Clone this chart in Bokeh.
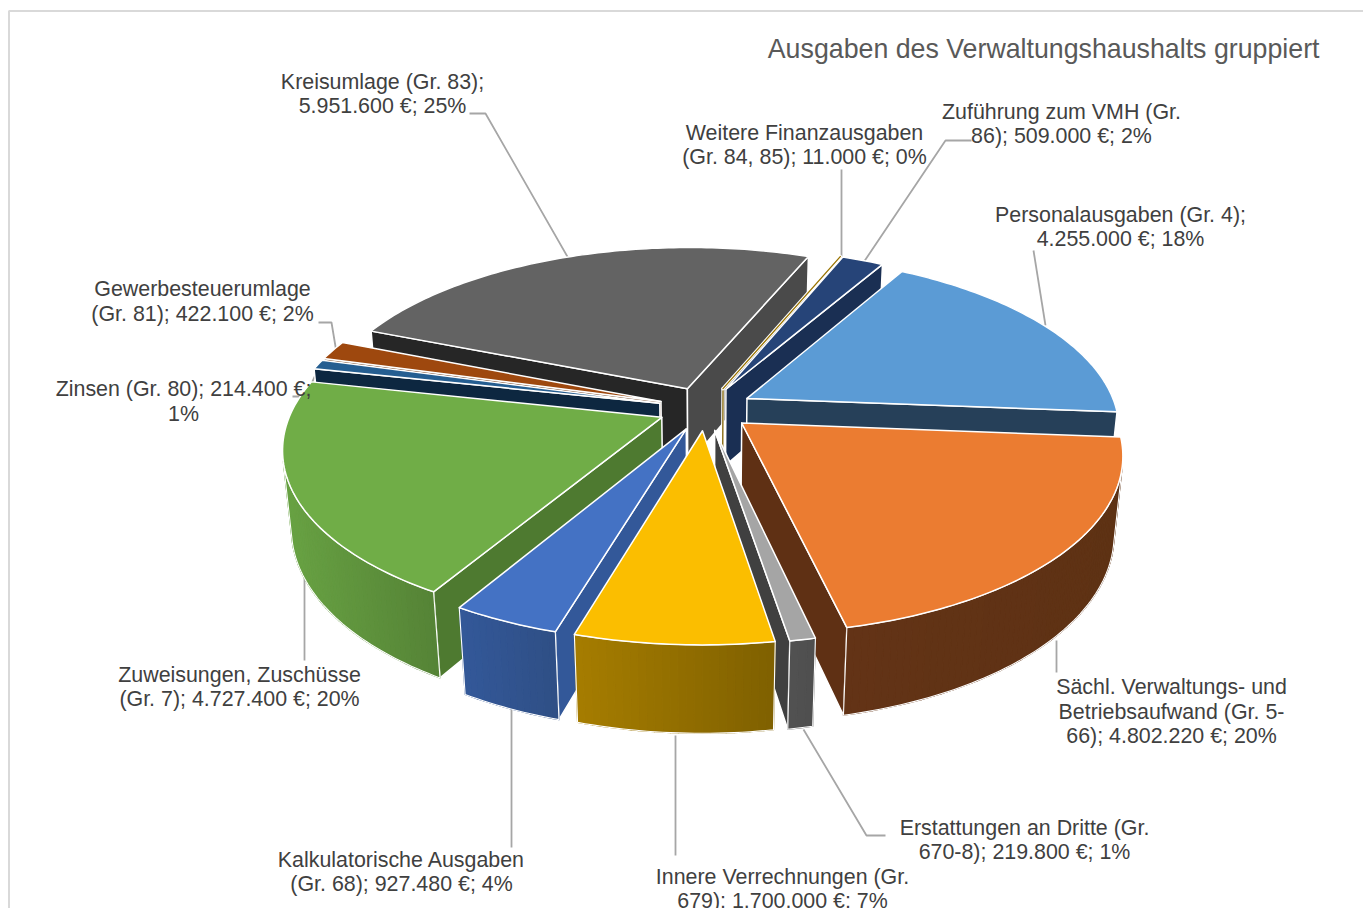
import math
from bokeh.plotting import figure
from bokeh.models import Range1d, ColumnDataSource
from bokeh.core.properties import value
from bokeh.embed import file_html
from bokeh.resources import INLINE

# ---- data
categories = ["Personalausgaben (Gr. 4)", "Sächl. Verwaltungs- und Betriebsaufwand (Gr. 5-66)",
              "Erstattungen an Dritte (Gr. 670-8)", "Innere Verrechnungen (Gr. 679)",
              "Kalkulatorische Ausgaben (Gr. 68)", "Zuweisungen, Zuschüsse (Gr. 7)",
              "Zinsen (Gr. 80)", "Gewerbesteuerumlage (Gr. 81)", "Kreisumlage (Gr. 83)",
              "Weitere Finanzausgaben (Gr. 84, 85)", "Zuführung zum VMH (Gr. 86)"]
values = [4255000, 4802220, 219800, 1700000, 927480, 4727400, 214400, 422100, 5951600, 11000, 509000]

title_text = "Ausgaben des Verwaltungshaushalts gruppiert"

# ---- styles per slice: top, start wall, end wall, rim left, rim right
top_colors = ["#5B9BD5", "#EB7C31", "#A5A5A5", "#FBBE00", "#4472C4", "#70AD47",
              "#255E91", "#9E480E", "#636363", "#997300", "#264478"]
start_wall = ["#1F3F5E", "#5F3014", "#404040", "#7F6000", "#335899", "#4E7A30",
              "#0D2740", "#5F2B08", "#262626", "#7F6000", "#1A2F53"]
end_wall = ["#264059", "#5F3014", "#404040", "#7F6000", "#335899", "#4E7A30",
            "#0D2740", "#5F2B08", "#4A4A4A", "#7F6000", "#1A2F53"]
rim_left = ["#264059", "#633316", "#525252", "#A67D00", "#335899", "#68A243",
            "#1B4A75", "#773608", "#4A4A4A", "#7F6000", "#1F3A66"]
rim_right = ["#264059", "#5E3214", "#4F4F4F", "#7F6000", "#2F4F85", "#558336",
             "#1B4A75", "#773608", "#4A4A4A", "#7F6000", "#1F3A66"]

# ---- layout
W, H = 1363, 908
CX, CY = 705, 408
TILT = math.radians(27.5)
DIST = 4.85
SCALE = 369.5          # px per radius at the pie's centre plane
START_DEG = 30.0
EXPLODE = 0.128
DEPTH = 0.24
SLIVER_DEG = 0.5       # slices thinner than this are drawn as a hairline

c_t, s_t = math.cos(TILT), math.sin(TILT)
D = DIST * c_t * 1.25
F = SCALE * D


def project(X, Y, Z=0.0):
    yc = Y * s_t + Z * c_t
    w = D + Y * c_t - Z * s_t
    return CX + F * X / w, CY - F * yc / w


CAM = (0.0, -D * c_t, D * s_t)


def facing(n, p):
    return sum(n[i] * (CAM[i] - p[i]) for i in range(3)) > 0


def hex2rgb(h):
    return tuple(int(h[i:i + 2], 16) for i in (1, 3, 5))


def mix(a, b, t):
    ra, rb = hex2rgb(a), hex2rgb(b)
    return "#%02X%02X%02X" % tuple(round(ra[i] + (rb[i] - ra[i]) * t) for i in range(3))


total = sum(values)
slices = []
ang = START_DEG
for i, v in enumerate(values):
    sweep = 360.0 * v / total
    a0, a1 = math.radians(ang), math.radians(ang + sweep)
    mid = (a0 + a1) / 2
    ox, oy = EXPLODE * math.sin(mid), EXPLODE * math.cos(mid)
    slices.append(dict(i=i, a0=a0, a1=a1, ox=ox, oy=oy, sweep=sweep, depth=oy + 0.5 * math.cos(mid)))
    ang += sweep

# painter's order: back first, hairline slices after their neighbours
slices.sort(key=lambda s: (s["sweep"] < SLIVER_DEG and s["depth"] > 0.5, -s["depth"]))
sliver_last = [s for s in slices if s["sweep"] < SLIVER_DEG]
rest = [s for s in slices if s["sweep"] >= SLIVER_DEG]
# a hairline slice goes right after the slices behind and beside it
slices = rest[:3] + sliver_last + rest[3:]

xs, ys, fills, alphas, lines, widths = [], [], [], [], [], []


def face(pts, fill, line="#FFFFFF", lw=1.5, alpha=1.0):
    xs.append([q[0] for q in pts])
    ys.append([q[1] for q in pts])
    fills.append(fill)
    alphas.append(alpha)
    lines.append(line)
    widths.append(lw)


for s in slices:
    i, a0, a1, ox, oy = s["i"], s["a0"], s["a1"], s["ox"], s["oy"]
    n = max(2, int(math.degrees(a1 - a0)))
    angs = [a0 + (a1 - a0) * k / n for k in range(n + 1)]
    rim3 = [(ox + math.sin(a), oy + math.cos(a)) for a in angs]
    apex = (ox, oy)

    if s["sweep"] < SLIVER_DEG:
        # hairline: white halo, then coloured core, for top and end wall
        tip = rim3[-1]
        wall = [project(*apex), project(apex[0], apex[1], -DEPTH)]
        top = [project(*apex), project(*tip)]
        face(wall + wall[::-1], "#FFFFFF", lw=3.4)
        face(wall + wall[::-1], end_wall[i], line=end_wall[i], lw=1.3)
        face(top + top[::-1], "#FFFFFF", lw=3.4)
        face(top + top[::-1], top_colors[i], line=top_colors[i], lw=1.3)
        continue

    # radial walls
    rad0 = rim3[0]
    nrm0 = (-math.cos(a0), math.sin(a0), 0)
    if facing(nrm0, (apex[0], apex[1], -DEPTH / 2)):
        face([project(*apex), project(*rad0), project(rad0[0], rad0[1], -DEPTH), project(apex[0], apex[1], -DEPTH)],
             start_wall[i])
    rad1 = rim3[-1]
    nrm1 = (math.cos(a1), -math.sin(a1), 0)
    if facing(nrm1, (apex[0], apex[1], -DEPTH / 2)):
        face([project(*apex), project(*rad1), project(rad1[0], rad1[1], -DEPTH), project(apex[0], apex[1], -DEPTH)],
             end_wall[i])

    # rim wall, as a gradient of thin quads
    vis = []
    for k in range(n):
        am = (angs[k] + angs[k + 1]) / 2
        p = (ox + math.sin(am), oy + math.cos(am), -DEPTH / 2)
        if facing((math.sin(am), math.cos(am), 0), p):
            vis.append(k)
    if vis:
        runs = [rim3[k] for k in vis] + [rim3[vis[-1] + 1]]
        sx = [project(*q)[0] for q in runs]
        lo, hi = min(sx), max(sx)
        for k in vis:
            q0, q1 = rim3[k], rim3[k + 1]
            xm = (project(*q0)[0] + project(*q1)[0]) / 2
            t = (xm - lo) / max(hi - lo, 1)
            col = mix(rim_left[i], rim_right[i], t)
            face([project(*q0), project(*q1), project(q1[0], q1[1], -DEPTH), project(q0[0], q0[1], -DEPTH)],
                 col, line=col, lw=1.2)
        outline = [project(*q) for q in runs] + [project(q[0], q[1], -DEPTH) for q in reversed(runs)]
        face(outline, "#FFFFFF", alpha=0.0, lw=1.1)

    # top
    face([project(*apex)] + [project(*q) for q in rim3], top_colors[i])

# ---- labels and leader lines (screen layout)
label_blocks = [
    (382, [(81, "Kreisumlage (Gr. 83);"), (105, "5.951.600 €; 25%")]),
    (804, [(132, "Weitere Finanzausgaben"), (156, "(Gr. 84, 85); 11.000 €; 0%")]),
    (1061, [(111, "Zuführung zum VMH (Gr."), (135, "86); 509.000 €; 2%")]),
    (1120, [(214, "Personalausgaben (Gr. 4);"), (238, "4.255.000 €; 18%")]),
    (202, [(288, "Gewerbesteuerumlage"), (313, "(Gr. 81); 422.100 €; 2%")]),
    (183, [(388, "Zinsen (Gr. 80); 214.400 €;"), (413, "1%")]),
    (239, [(674, "Zuweisungen, Zuschüsse"), (698, "(Gr. 7); 4.727.400 €; 20%")]),
    (401, [(859, "Kalkulatorische Ausgaben"), (883, "(Gr. 68); 927.480 €; 4%")]),
    (782, [(876, "Innere Verrechnungen (Gr."), (900, "679); 1.700.000 €; 7%")]),
    (1024, [(827, "Erstattungen an Dritte (Gr."), (851, "670-8); 219.800 €; 1%")]),
    (1171, [(686, "Sächl. Verwaltungs- und"), (711, "Betriebsaufwand (Gr. 5-"), (735, "66); 4.802.220 €; 20%")]),
]
leaders = [
    [(469, 113), (485, 113), (568, 258)],
    [(841, 169), (841, 258)],
    [(971, 140), (945, 140), (863, 262)],
    [(1033, 250), (1045, 325)],
    [(318, 322), (331, 322), (336, 352)],
    [(292, 396), (305, 396), (318, 368)],
    [(304, 660), (304, 575)],
    [(511, 847), (511, 708)],
    [(675, 855), (675, 735)],
    [(885, 835), (866, 835), (803, 729)],
    [(1056, 672), (1056, 640)],
]

p = figure(width=W, height=H, x_range=Range1d(0, W), y_range=Range1d(H, 0),
           output_backend="svg", toolbar_location=None, min_border=0,
           outline_line_color=None, background_fill_color="#FFFFFF")
p.axis.visible = False
p.grid.visible = False

# chart frame
p.line([8.5, 8.5, W], [H, 10.5, 10.5], line_color="#D9D9D9", line_width=2)

p.multi_line([[q[0] for q in l] for l in leaders], [[q[1] for q in l] for l in leaders],
             line_color="#A6A6A6", line_width=1.8)

src = ColumnDataSource(dict(xs=xs, ys=ys, fill=fills, alpha=alphas, line=lines, lw=widths))
p.patches("xs", "ys", source=src, fill_color="fill", fill_alpha="alpha", line_color="line", line_width="lw",
          line_join="round")

tx, ty, tt = [], [], []
for cx, rows in label_blocks:
    for y, t in rows:
        tx.append(cx)
        ty.append(y)
        tt.append(t)
p.text(tx, ty, text=tt, text_font=value("Liberation Sans"), text_font_size="21.4px", text_color="#404040",
       text_align="center", text_baseline="middle")
p.text([1319], [48], text=[title_text], text_font=value("Liberation Sans"), text_font_size="26.75px",
       text_color="#595959", text_align="right", text_baseline="middle")

open("out.html", "w").write(file_html(p, INLINE))
